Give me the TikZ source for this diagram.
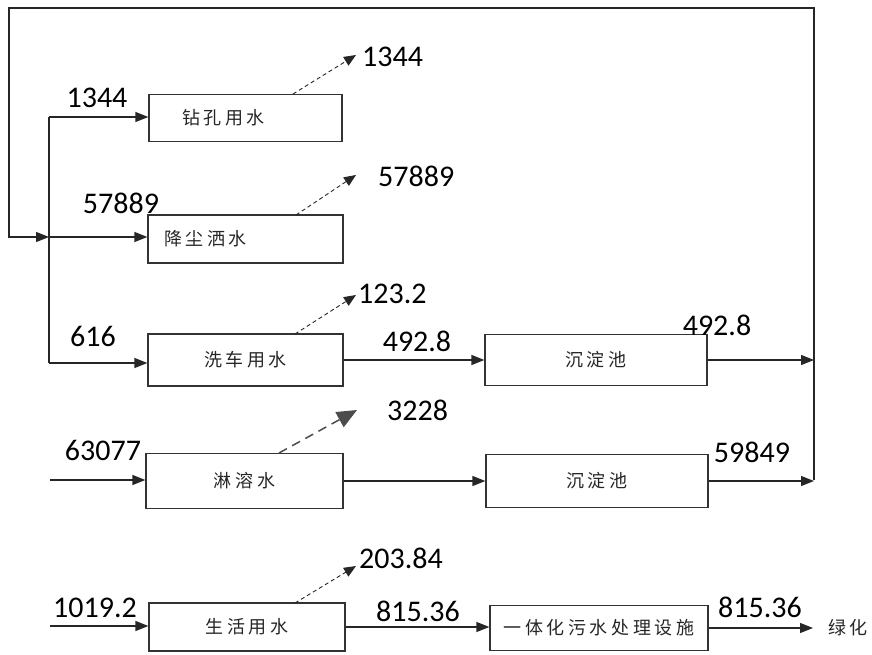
\documentclass[tikz,border=0pt]{standalone}
\usepackage{fontspec}
\setmainfont{Carlito}
\newfontfamily\cjk[LetterSpace=20]{Noto Sans CJK SC}
\usepackage{tikz}
\usetikzlibrary{arrows.meta}
\tikzset{flow/.style={draw=black!85, line width=1.3pt, -{Triangle[length=13pt,width=10pt]}}}
\tikzset{loss/.style={draw=black!85, line width=0.9pt, dash pattern=on 4pt off 3pt, -{Triangle[length=12pt,width=10pt]}}}
\tikzset{bigloss/.style={draw=black!70, line width=1.5pt, dash pattern=on 9pt off 6pt, -{Triangle[length=20pt,width=17pt]}}}

\begin{document}
\begin{tikzpicture}[x=1pt, y=-1pt]
	% Default look of boxes and numbers
	\tikzstyle{box}=[draw=black!80, line width=1.2pt, inner sep=0pt, text=black!85, font=\cjk\fontsize{18}{18}\selectfont];
	\tikzstyle{num}=[inner sep=0pt, font=\fontsize{30}{30}\selectfont];

	\useasboundingbox (0,0) rectangle (872,655);

	% BOXES
	\node[box, minimum height=47pt, text width=127pt, inner xsep=33pt, align=left] (drill) at (245.5,118) {钻孔用水};
	\node[box, minimum height=48pt, text width=163pt, inner xsep=16pt, align=left] (dust) at (245.5,239) {降尘洒水};
	\node[box, minimum width=195pt, minimum height=52pt] (wash) at (245.5,360) {洗车用水};
	\node[box, minimum width=197pt, minimum height=55pt] (leach) at (244.5,481) {淋溶水};
	\node[box, minimum width=196pt, minimum height=48pt] (domestic) at (247,627) {生活用水};

	\node[box, minimum width=222pt, minimum height=51pt] (settleA) at (596,360) {沉淀池};
	\node[box, minimum width=222pt, minimum height=53pt] (settleB) at (597,481) {沉淀池};
	\node[box, minimum width=218pt, minimum height=45pt] (treat) at (599,628) {一体化污水处理设施};
	\node[inner sep=0pt, text=black!85, font=\cjk\fontsize{18}{18}\selectfont, anchor=west] (green) at (828,628) {绿化};

	% NUMBERS
	\node[num] (n drill in) at (97,98) {1344};
	\node[num] (n dust in) at (121,203) {57889};
	\node[num] (n wash in) at (93,336) {616};
	\node[num] (n leach in) at (103,450) {63077};
	\node[num] (n dom in) at (95,608) {1019.2};

	\node[num, anchor=west] (n drill out) at (362,57) {1344};
	\node[num, anchor=west] (n dust out) at (378,176) {57889};
	\node[num, anchor=west] (n wash out) at (358,294) {123.2};
	\node[num, anchor=west] (n leach out) at (387,410) {3228};
	\node[num, anchor=west] (n dom out) at (359,558) {203.84};

	\node[num] (n wash mid) at (417,341) {492.8};
	\node[num] (n dom mid) at (418,611) {815.36};
	\node[num] (n settleA out) at (717,325) {492.8};
	\node[num] (n settleB out) at (752,452) {59849};
	\node[num] (n treat out) at (760,607) {815.36};

	% COORDINATES
	\coordinate (trunk top) at (49,117);
	\coordinate (trunk mid) at (49,237);
	\coordinate (trunk bot) at (49,363);
	\coordinate (loop a) at (9,237);		\coordinate (loop b) at (9,8);
	\coordinate (loop c) at (814,8);		\coordinate (loop d) at (814,480);
	\coordinate (leach src) at (50,480);
	\coordinate (dom src) at (50,626);
	\coordinate (green in) at (813,628);

	\coordinate (drill top) at (293,94);	\coordinate (drill tip) at (356,55);
	\coordinate (dust top) at (296,215);	\coordinate (dust tip) at (356,175);
	\coordinate (wash top) at (295,334);	\coordinate (wash tip) at (356,295);
	\coordinate (leach top) at (279,453);	\coordinate (leach tip) at (357,410);
	\coordinate (dom top) at (295,603);		\coordinate (dom tip) at (356,566);

	% Loop back and trunk
	\draw[flow] (loop d) -- (loop c) -- (loop b) -- (loop a) -- (trunk mid);
	\draw[line width=1.3pt, black!85] (trunk top) -- (trunk bot);

	% Horizontals
	\draw[flow] (trunk top) -- (trunk top -| drill.west);
	\draw[flow] (trunk mid) -- (trunk mid -| dust.west);
	\draw[flow] (trunk bot) -- (trunk bot -| wash.west);
	\draw[flow] (leach src) -- (leach src -| leach.west);
	\draw[flow] (dom src) -- (dom src -| domestic.west);

	\draw[flow] (wash.east) -- (wash.east -| settleA.west);
	\draw[flow] (leach.east) -- (leach.east -| settleB.west);
	\draw[flow] (domestic.east) -- (domestic.east -| treat.west);

	\draw[flow] (settleA.east) -- (settleA.east -| loop c);
	\draw[flow] (settleB.east) -- (settleB.east -| loop c);
	\draw[flow] (treat.east) -- (green in);

	% Losses
	\draw[loss] (drill top) -- (drill tip);
	\draw[loss] (dust top) -- (dust tip);
	\draw[loss] (wash top) -- (wash tip);
	\draw[bigloss] (leach top) -- (leach tip);
	\draw[loss] (dom top) -- (dom tip);
\end{tikzpicture}
\end{document}
